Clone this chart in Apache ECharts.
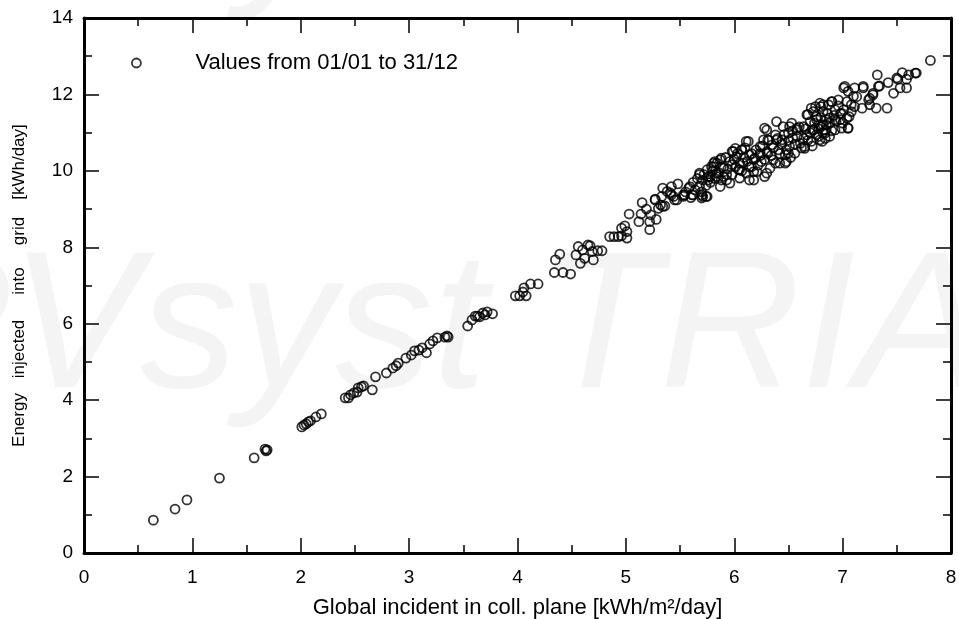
<!DOCTYPE html>
<html>
<head>
<meta charset="utf-8">
<script src="https://cdn.jsdelivr.net/npm/echarts@6/dist/echarts.min.js"></script>
<style>html,body{margin:0;padding:0;background:#fff;}#c{width:959px;height:619px;}</style>
</head>
<body>
<div id="c"></div>
<script>
// Axis ticks
const xTicks = [0, 1, 2, 3, 4, 5, 6, 7, 8];
const yTicks = [0, 2, 4, 6, 8, 10, 12, 14];
const seriesName = 'Values from 01/01 to 31/12';
const xAxisTitle = 'Global incident in coll. plane [kWh/m²/day]';
const yAxisWords = ['Energy', 'injected', 'into', 'grid', '[kWh/day]'];

// Daily values [global incident kWh/m²/day, energy injected kWh/day]
const lowDays = [
  [0.64,0.86],[0.84,1.15],[0.95,1.39],[1.25,1.96],[1.57,2.49],[1.67,2.72],[1.68,2.67],[1.69,2.70],
  [2.01,3.30],[2.03,3.35],[2.05,3.38],[2.07,3.43],[2.09,3.46],[2.14,3.56],[2.19,3.64],
  [2.41,4.06],[2.44,4.06],[2.46,4.14],[2.49,4.19],[2.52,4.21],[2.53,4.32],[2.56,4.35],[2.58,4.37],
  [2.66,4.27],[2.69,4.61],[2.79,4.71],[2.85,4.84],[2.88,4.90],[2.90,4.97],[2.97,5.10],[3.02,5.18],
  [3.05,5.29],[3.09,5.31],[3.12,5.37],[3.16,5.24],[3.19,5.47],[3.22,5.55],[3.26,5.63],[3.33,5.65],
  [3.35,5.68],[3.36,5.65],[3.54,5.94],[3.58,6.10],[3.61,6.20],[3.63,6.20],[3.65,6.18],[3.68,6.28],
  [3.70,6.23],[3.72,6.31],[3.77,6.26]
];
const midDays = [
  [3.98,6.73],[4.02,6.73],[4.05,6.83],[4.06,6.94],[4.08,6.73],[4.12,7.04],[4.19,7.04],
  [4.34,7.34],[4.42,7.34],[4.49,7.30],[4.35,7.67],[4.39,7.82],[4.56,8.02],[4.54,7.80],[4.58,7.58],
  [4.62,7.71],[4.60,7.93],[4.65,8.06],[4.67,8.04],[4.70,7.67],[4.69,7.89],[4.74,7.91],[4.78,7.91],
  [4.85,8.28],[4.89,8.28],[4.93,8.28],[4.96,8.30],[4.96,8.50],[4.99,8.56],[5.01,8.41],[5.01,8.24],
  [5.03,8.87],[5.12,8.67],[5.14,8.87],[5.15,9.17],[5.19,9.00],[5.22,8.67],[5.22,8.46],[5.23,8.85],
  [5.27,9.26],[5.28,8.73],[5.30,9.02],[5.32,9.11],[5.34,9.55],[5.38,9.46],[5.42,9.37],[5.45,9.24],
  [5.48,9.66],[5.53,9.37],[5.59,9.59],[5.62,9.37],[5.68,9.94],[5.71,9.33],[5.81,10.20],
  [5.27,9.24],[5.33,9.33],[5.34,9.07],[5.41,9.42],[5.42,9.59],[5.47,9.24],[5.53,9.33],[5.61,9.37],
  [5.70,9.29],[5.75,9.33],[5.44,9.33],[5.36,9.08],[5.54,9.37],[5.70,9.37],[5.74,9.33]
];
const denseDays = [
  [5.68,9.90],[5.71,9.76],[5.75,10.03],[5.78,9.85],[5.81,10.11],[5.84,9.94],[5.87,10.29],[5.88,9.76],
  [5.90,10.07],[5.93,9.90],[5.96,9.68],[5.98,10.16],[5.99,10.51],[6.02,10.37],[6.04,10.03],[6.05,9.81],
  [6.07,10.55],[6.08,10.20],[6.11,9.94],[6.13,10.77],[6.14,10.42],[6.16,10.11],[6.18,9.76],[6.19,10.33],
  [6.21,9.98],[6.24,10.64],[6.25,10.24],[6.27,10.81],[6.28,9.85],[6.30,11.07],[6.31,10.46],[6.33,10.07],
  [6.35,10.68],[6.36,10.29],[6.38,10.94],[6.39,11.29],[6.41,10.55],[6.42,10.20],[6.44,10.81],[6.45,11.16],
  [6.47,10.42],[6.48,10.24],[6.50,10.99],[6.51,10.64],[6.53,11.25],[6.54,10.86],[6.56,10.46],[6.58,11.07],
  [6.61,10.72],[6.64,11.16],[6.65,10.59],[6.67,10.94],[6.68,11.47],[6.70,11.29],[6.71,10.77],[6.73,11.07],
  [6.75,11.68],[6.76,11.42],[6.78,10.90],[6.79,11.20],[6.81,10.77],[6.82,11.55],[6.84,10.99],[6.85,11.34],
  [6.87,11.73],
  [5.55,9.45],[5.58,9.55],[5.60,9.30],[5.62,9.70],[5.64,9.50],[5.66,9.80],[5.68,9.60],[5.70,9.45],
  [5.72,9.90],[5.74,9.62],[5.76,9.85],[5.78,9.70],[5.80,10.00],[5.82,9.80],[5.84,10.20],[5.86,9.95],
  [5.88,10.10],[5.90,9.85],[5.92,10.35],[5.94,10.05],[5.96,10.25],[5.98,9.90],[6.00,10.30],[6.01,10.10],
  [6.03,10.45],[6.05,10.20],[6.07,10.00],[6.09,10.35],[6.10,10.60],[6.12,10.25],[6.14,10.10],[6.16,10.45],
  [6.18,10.30],[6.20,10.55],[6.22,10.15],[6.24,10.40],[6.26,10.65],[6.28,10.30],[6.30,10.50],[6.32,10.80],
  [6.34,10.40],[6.36,10.60],[6.38,10.20],[6.40,10.85],[6.42,10.45],[6.44,10.70],[6.46,10.95],[6.48,10.55],
  [6.50,10.80],[6.52,10.35],[6.54,11.05],[6.56,10.70],[6.58,10.90],[6.60,11.15],[6.62,10.60],[6.64,10.85],
  [6.66,11.10],[6.68,10.80],[6.70,11.00],[6.72,10.65],[6.74,11.25],[6.76,10.95],[6.78,11.10],[6.80,11.40],
  [6.82,11.20],[6.84,10.85],[6.86,11.50],[6.88,11.25],[6.90,11.05],[6.92,11.45],[6.94,11.30],[6.96,11.70],
  [6.98,11.50],[7.00,11.25],
  [5.76,9.76],[5.79,10.11],[5.82,10.24],[5.84,9.85],[5.87,9.59],[5.88,10.33],[5.93,9.76],[5.98,10.51],
  [6.01,10.59],[6.05,10.03],[6.07,10.55],[6.11,10.77],[6.14,9.76],[6.18,9.98],[6.24,10.46],[6.30,9.94],
  [6.28,11.12],[6.31,10.81],[6.39,10.81],[6.47,10.20],[6.50,10.46],[6.51,11.16],[6.58,11.12],[6.65,10.64],
  [6.67,11.47],[6.71,11.64],[6.73,11.07],[6.79,11.77],[6.79,10.81],[6.84,11.07],[6.90,11.81],[6.93,11.34],
  [6.99,11.51]
];
const topDays = [
  [7.81,12.89],[7.68,12.56],[7.61,12.51],[7.59,12.40],[7.55,12.57],[7.51,12.40],[7.53,12.17],[7.59,12.17],
  [7.47,12.03],[7.42,12.31],[7.34,12.22],[7.32,12.51],[7.28,11.99],[7.24,11.86],[7.25,11.73],[7.31,11.64],
  [7.41,11.64],[7.19,12.17],[7.11,12.17],[7.01,12.17],[7.05,12.08],[7.10,11.95],[7.04,11.81],[6.96,11.86],
  [6.90,11.81],[6.82,11.73],[6.80,11.68],[7.11,11.68],[7.18,11.64],[7.08,11.55],[7.01,11.60],[6.93,11.60],
  [7.04,11.38],[6.98,11.34],[6.88,11.38],[7.06,11.42],[7.05,11.12],[6.99,11.12],[6.93,11.07],[6.85,11.20],
  [6.80,11.16],[6.73,11.55],[6.76,11.34],[6.82,10.99],[6.72,11.07],[6.88,10.90],
  [7.02,12.21],[7.05,11.12],[7.08,11.73],[7.13,11.94],[7.19,12.21],[7.25,11.90],[7.28,12.03],[7.33,12.21],
  [7.50,12.43],[7.67,12.56]
];

const allDays = lowDays.concat(midDays, denseDays, topDays);

const chart = echarts.init(document.getElementById('c'), null, {renderer: 'canvas'});
const FONT = '"Liberation Sans", Arial, sans-serif';
const tickStyle = {color: '#000', width: 1.5};
function xAx(pos, showLabel) {
  return {
    type: 'value', position: pos, min: xTicks[0], max: xTicks[xTicks.length - 1], interval: 1,
    axisLine: {show: true, onZero: false, lineStyle: {color: '#000', width: 3}},
    axisTick: {show: true, inside: true, length: 15, lineStyle: tickStyle},
    minorTick: {show: true, splitNumber: 2, length: 8, lineStyle: tickStyle},
    splitLine: {show: false},
    axisLabel: {show: showLabel, color: '#000', fontSize: 19, fontFamily: FONT, margin: 15},
    name: showLabel ? xAxisTitle : '', nameLocation: 'middle', nameGap: 44,
    nameTextStyle: {color: '#000', fontSize: 22, fontFamily: FONT}
  };
}
function yAx(pos, showLabel) {
  return {
    type: 'value', position: pos, min: yTicks[0], max: yTicks[yTicks.length - 1], interval: 2,
    axisLine: {show: true, onZero: false, lineStyle: {color: '#000', width: 3}},
    axisTick: {show: true, inside: true, length: 15, lineStyle: tickStyle},
    minorTick: {show: true, splitNumber: 2, length: 8, lineStyle: tickStyle},
    splitLine: {show: false},
    axisLabel: {show: showLabel, color: '#000', fontSize: 19, fontFamily: FONT, margin: 11}
  };
}

// y axis title words (rotated), centred positions along the axis
const yWordCentres = [420, 349, 281, 231, 162];
const yTitleGraphics = yAxisWords.map((w, i) => ({
  type: 'text', x: 19, y: yWordCentres[i], rotation: Math.PI / 2, z: 10,
  style: {text: w, fill: '#000', font: '17px ' + FONT, align: 'center', verticalAlign: 'middle'}
}));

chart.setOption({
  animation: false,
  backgroundColor: '#fff',
  grid: {left: 84, right: 8, top: 18, bottom: 66, containLabel: false, outerBoundsMode: 'none'},
  graphic: [
    {type: 'text', x: -120, y: 235, z: -10, silent: true,
     style: {text: 'PVsyst TRIAL', fill: '#f4f4f4', font: 'italic 195px ' + FONT, verticalAlign: 'top'}},
    {type: 'text', x: -120, y: -172, z: -10, silent: true,
     style: {text: 'PVsyst TRIAL', fill: '#f4f4f4', font: 'italic 195px ' + FONT, verticalAlign: 'top'}}
  ].concat(yTitleGraphics),
  legend: {
    show: true, left: 126, top: 47, orient: 'horizontal',
    itemWidth: 108, itemHeight: 9, icon: 'circle',
    itemStyle: {color: 'rgba(0,0,0,0)', borderColor: '#000', borderWidth: 1.8},
    textStyle: {color: '#000', fontSize: 22, fontFamily: FONT},
    data: [seriesName]
  },
  xAxis: [xAx('bottom', true), xAx('top', false)],
  yAxis: [yAx('left', true), yAx('right', false)],
  series: [{
    name: seriesName, type: 'scatter', xAxisIndex: 0, yAxisIndex: 0,
    symbol: 'circle', symbolSize: 9,
    itemStyle: {color: 'rgba(0,0,0,0)', borderColor: '#000', borderWidth: 1.8},
    emphasis: {disabled: true},
    data: allDays
  }]
});
</script>
</body>
</html>
